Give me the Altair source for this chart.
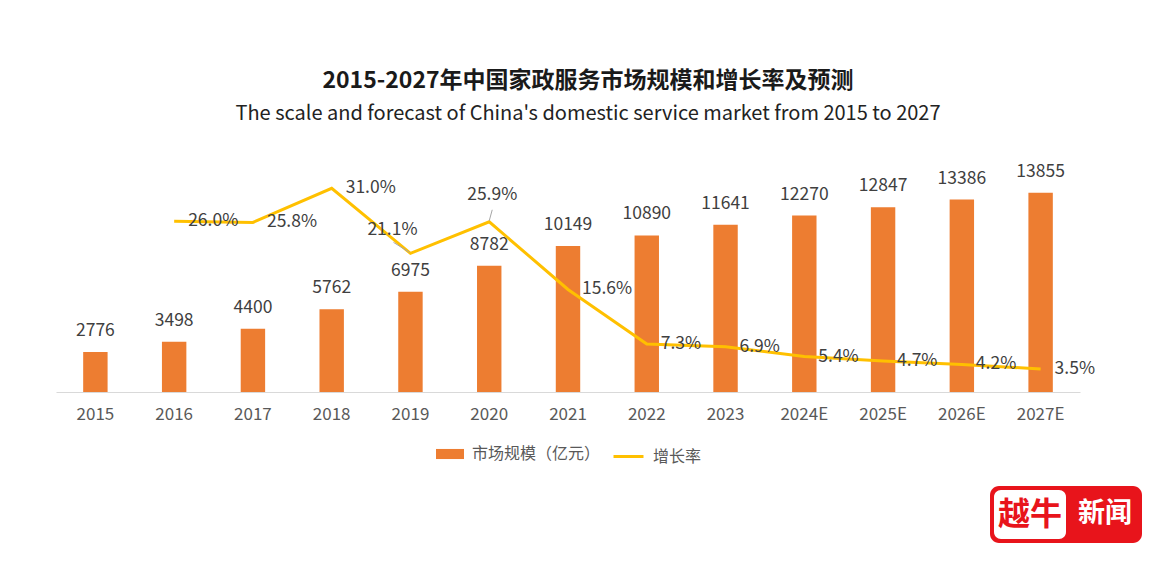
import altair as alt
import pandas as pd

years = ["2015", "2016", "2017", "2018", "2019", "2020", "2021", "2022", "2023",
         "2024E", "2025E", "2026E", "2027E"]
scale_values = [2776, 3498, 4400, 5762, 6975, 8782, 10149, 10890, 11641, 12270, 12847, 13386, 13855]
growth_values = [None, 26.0, 25.8, 31.0, 21.1, 25.9, 15.6, 7.3, 6.9, 5.4, 4.7, 4.2, 3.5]

bar_name = "市场规模（亿元）"
line_name = "增长率"

df = pd.DataFrame({"year": years, "scale": scale_values, "growth": growth_values})
df["scale_label"] = df["scale"].astype(str)
df["growth_label"] = df["growth"].map(lambda v: f"{v:.1f}%" if pd.notna(v) else "")

FONT = "Noto Sans CJK SC"
BAR = "#ED7D31"
LINE = "#FFC000"
TXT = "#404040"

x = alt.X("year:N", sort=years,
          scale=alt.Scale(paddingInner=0.69, paddingOuter=0.345),
          axis=alt.Axis(title=None, labelAngle=0, labelFont=FONT, labelFontSize=17,
                        labelColor="#595959", ticks=False, domainColor="#D9D9D9",
                        domainWidth=1, labelPadding=14))
ybar = alt.Y("scale:Q", scale=alt.Scale(domain=[0, 16000]), axis=None)
yline = alt.Y("growth:Q", scale=alt.Scale(domain=[0, 35]), axis=None)
yline2 = alt.Y2("growth")

base = alt.Chart(df)

bars = base.mark_bar().transform_calculate(s1=f"'{bar_name}'").encode(
    x=x, y=ybar,
    fill=alt.Fill("s1:N", scale=alt.Scale(domain=[bar_name], range=[BAR]),
                  legend=alt.Legend(title=None, orient="none", legendX=380, legendY=278,
                                    symbolType="M-1,-0.36H1V0.36H-1Z", symbolSize=784,
                                    symbolStrokeWidth=0, labelFont=FONT, labelFontSize=16,
                                    labelColor="#595959", labelOffset=8)))

bar_text = base.mark_text(font=FONT, fontSize=17.5, color=TXT, baseline="middle", dy=-21).encode(
    x=x, y=ybar, text="scale_label:N")

gdf = base.transform_filter("datum.growth != null")

line = gdf.mark_line(strokeWidth=3).transform_calculate(s2=f"'{line_name}'").encode(
    x=x, y=yline,
    stroke=alt.Stroke("s2:N", scale=alt.Scale(domain=[line_name], range=[LINE]),
                      legend=alt.Legend(title=None, orient="none", legendX=556, legendY=278,
                                        symbolType="stroke",
                                        symbolSize=900, symbolStrokeWidth=3,
                                        labelFont=FONT, labelFontSize=16,
                                        labelColor="#595959", labelOffset=8)))

line_text_right = gdf.transform_filter(
    "datum.year != '2019' && datum.year != '2020'").mark_text(
    font=FONT, fontSize=17.5, color=TXT, align="left", baseline="middle", dx=14).encode(
    x=x, y=yline, text="growth_label:N")

line_text_2019 = gdf.transform_filter("datum.year == '2019'").mark_text(
    font=FONT, fontSize=17.5, color=TXT, align="center", baseline="middle", dx=-18, dy=-23).encode(
    x=x, y=yline, text="growth_label:N")

line_text_2020 = gdf.transform_filter("datum.year == '2020'").mark_text(
    font=FONT, fontSize=17.5, color=TXT, align="center", baseline="middle", dx=3, dy=-27).encode(
    x=x, y=yline, text="growth_label:N")

leader_2019 = gdf.transform_filter("datum.year == '2019'").mark_rule(
    color="#A6A6A6", strokeWidth=1, xOffset=-17, yOffset=-11, x2Offset=-1, y2Offset=-1).encode(
    x=x, x2=alt.X2("year"), y=yline, y2=yline2)

leader_2020 = gdf.transform_filter("datum.year == '2020'").mark_rule(
    color="#A6A6A6", strokeWidth=1, xOffset=3, yOffset=-12, x2Offset=0, y2Offset=-1).encode(
    x=x, x2=alt.X2("year"), y=yline, y2=yline2)

logo_src = alt.Chart(alt.InlineData(values=[{"a": 1}]))
logo_outer = logo_src.mark_rect(color="#E8141B", cornerRadius=9).encode(
    x=alt.value(934), x2=alt.value(1086), y=alt.value(324), y2=alt.value(381))
logo_inner = logo_src.mark_rect(color="white", cornerRadius=7).encode(
    x=alt.value(938), x2=alt.value(1010), y=alt.value(328), y2=alt.value(377))
logo_t1 = logo_src.mark_text(text="越牛", font=FONT, fontSize=32, fontWeight="bold",
                             color="#E8141B", align="center", baseline="middle").encode(
    x=alt.value(974), y=alt.value(353))
logo_t2 = logo_src.mark_text(text="新闻", font=FONT, fontSize=27, fontWeight="bold",
                             color="white", align="center", baseline="middle").encode(
    x=alt.value(1049), y=alt.value(352))

chart = alt.layer(
    bars, bar_text, line, leader_2019, leader_2020,
    line_text_right, line_text_2019, line_text_2020,
    logo_outer, logo_inner, logo_t1, logo_t2
).resolve_scale(y="independent").properties(
    width=1024, height=230,
    autosize=alt.AutoSizeParams(type="none"),
    padding={"left": 48, "top": 154, "right": 75, "bottom": 165},
    title=alt.Title(
        text="2015-2027年中国家政服务市场规模和增长率及预测",
        subtitle="The scale and forecast of China's domestic service market from 2015 to 2027",
        anchor="middle", frame="group", dx=20, offset=38,
        font=FONT, fontSize=23, fontWeight="bold", color="#1A1A1A",
        subtitleFont=FONT, subtitleFontSize=20, subtitleColor="#222222",
        subtitlePadding=11),
    background="white",
).configure_view(stroke=None)

chart.save("out.html", embed_options={"renderer": "svg", "actions": False})
